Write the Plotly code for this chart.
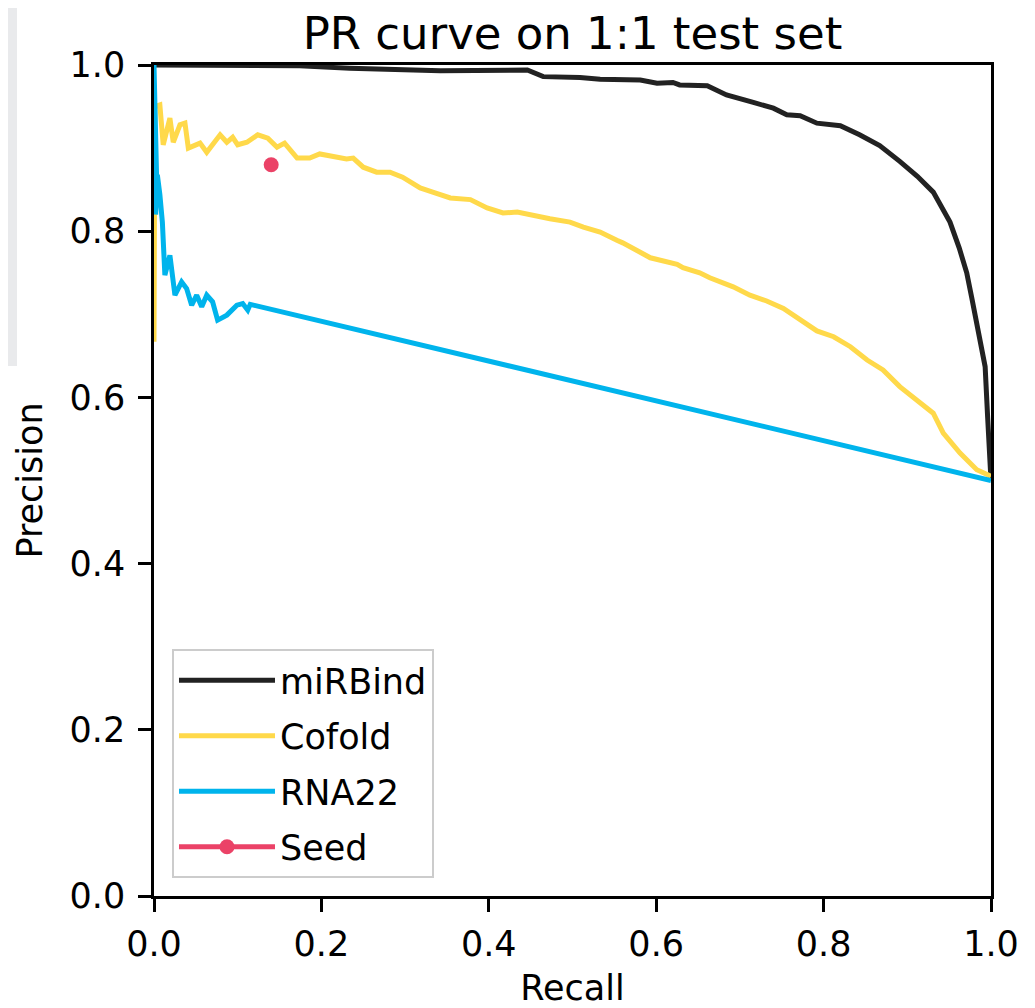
import plotly.graph_objects as go

# ---- data ----
mirbind_recall = [0.0, 0.174, 0.234, 0.342, 0.446, 0.465, 0.509, 0.533, 0.581, 0.601,
                  0.620, 0.628, 0.661, 0.673, 0.684, 0.716, 0.740, 0.756, 0.772,
                  0.792, 0.820, 0.843, 0.867, 0.891, 0.912, 0.931, 0.951, 0.962,
                  0.971, 0.977, 0.983, 0.988, 0.993, 0.996, 0.999, 1.0]
mirbind_precision = [1.0, 0.999, 0.996, 0.993, 0.994, 0.986, 0.985, 0.983, 0.982, 0.978,
                     0.979, 0.976, 0.975, 0.970, 0.964, 0.955, 0.948, 0.940, 0.939,
                     0.930, 0.927, 0.916, 0.903, 0.884, 0.866, 0.847, 0.811, 0.780,
                     0.750, 0.720, 0.691, 0.664, 0.637, 0.576, 0.516, 0.50]

cofold_recall = [0.0, 0.001, 0.007, 0.011, 0.019, 0.023, 0.031, 0.037, 0.041, 0.055,
                 0.063, 0.079, 0.087, 0.094, 0.100, 0.111, 0.124, 0.136, 0.147, 0.156,
                 0.171, 0.186, 0.198, 0.230, 0.238, 0.250, 0.266, 0.282, 0.297, 0.318,
                 0.333, 0.354, 0.378, 0.398, 0.417, 0.434, 0.473, 0.497, 0.513, 0.533,
                 0.553, 0.560, 0.593, 0.625, 0.632, 0.652, 0.664, 0.692, 0.712, 0.732,
                 0.752, 0.780, 0.792, 0.812, 0.832, 0.852, 0.871, 0.891, 0.911, 0.931,
                 0.943, 0.963, 0.983, 1.0]
cofold_precision = [0.667, 0.950, 0.952, 0.904, 0.936, 0.907, 0.928, 0.930, 0.900, 0.906,
                    0.895, 0.916, 0.907, 0.913, 0.904, 0.907, 0.916, 0.912, 0.901, 0.906,
                    0.888, 0.888, 0.893, 0.887, 0.888, 0.877, 0.871, 0.871, 0.865, 0.852,
                    0.847, 0.840, 0.838, 0.828, 0.822, 0.823, 0.815, 0.811, 0.805, 0.799,
                    0.789, 0.786, 0.768, 0.760, 0.756, 0.750, 0.744, 0.733, 0.723, 0.716,
                    0.707, 0.688, 0.680, 0.673, 0.661, 0.645, 0.633, 0.613, 0.597, 0.581,
                    0.557, 0.533, 0.513, 0.505]

rna22_recall = [0.0, 0.001, 0.003, 0.002, 0.004, 0.007, 0.010, 0.013, 0.019, 0.025,
                0.033, 0.039, 0.045, 0.051, 0.057, 0.063, 0.070, 0.076, 0.087, 0.099,
                0.106, 0.112, 0.115, 1.0]
rna22_precision = [1.0, 0.93, 0.87, 0.82, 0.868, 0.844, 0.811, 0.747, 0.771, 0.723,
                   0.739, 0.731, 0.711, 0.723, 0.709, 0.723, 0.715, 0.693, 0.699, 0.711,
                   0.713, 0.705, 0.712, 0.50]

seed_recall = [0.140]
seed_precision = [0.880]

x_ticks = [0.0, 0.2, 0.4, 0.6, 0.8, 1.0]
y_ticks = [0.0, 0.2, 0.4, 0.6, 0.8, 1.0]
tick_text = ["0.0", "0.2", "0.4", "0.6", "0.8", "1.0"]

FONT = "DejaVu Sans"

fig = go.Figure()
fig.add_trace(go.Scatter(x=mirbind_recall, y=mirbind_precision, mode="lines",
                         name="miRBind", legendgroup="a",
                         line=dict(color="#222222", width=5)))
fig.add_trace(go.Scatter(x=cofold_recall, y=cofold_precision, mode="lines",
                         name="Cofold", legendgroup="b",
                         line=dict(color="#FFD94A", width=5)))
fig.add_trace(go.Scatter(x=rna22_recall, y=rna22_precision, mode="lines",
                         name="RNA22", legendgroup="c",
                         line=dict(color="#00B4EC", width=5)))
fig.add_trace(go.Scatter(x=seed_recall, y=seed_precision, mode="lines+markers",
                         name="Seed", legendgroup="d",
                         line=dict(color="#EB4267", width=5),
                         marker=dict(color="#EB4267", size=15)))

axis_common = dict(
    range=[0, 1], showgrid=False, zeroline=False, automargin=False,
    showline=True, linecolor="black", linewidth=2.5, mirror=True,
    ticks="outside", ticklen=13, tickwidth=2.5, tickcolor="black",
    tickfont=dict(family=FONT, size=35, color="black"),
    tickvals=x_ticks, ticktext=tick_text,
)

fig.update_layout(
    width=1027, height=1000,
    margin=dict(l=146, r=44, t=57, b=112),
    paper_bgcolor="white", plot_bgcolor="white",
    font=dict(family=FONT, color="black"),
    title=dict(text="PR curve on 1:1 test set", x=0.5, xref="paper",
               y=1 - 25 / 1000, yref="container", yanchor="middle",
               font=dict(family=FONT, size=45, color="black"),
               automargin=False),
    xaxis=dict(axis_common, ticklabelstandoff=2,
               title=dict(text="Recall", standoff=14,
                          font=dict(family=FONT, size=35))),
    yaxis=dict(axis_common, tickvals=y_ticks, ticklabelstandoff=6,
               title=dict(text="Precision", standoff=17,
                          font=dict(family=FONT, size=35))),
    legend=dict(x=0.0215, y=0.0217, xanchor="left", yanchor="bottom",
                bgcolor="rgba(255,255,255,0.8)", bordercolor="#cccccc",
                borderwidth=2, font=dict(family=FONT, size=35, color="black"),
                tracegroupgap=7, itemwidth=96, traceorder="grouped"),
    showlegend=True,
    shapes=[dict(type="rect", xref="paper", yref="paper",
                 x0=-0.184, x1=-0.1637, y0=0.6378, y1=1.08,
                 fillcolor="#E9EAEC", line=dict(width=0), layer="below")],
)

fig.write_html("out.html")
